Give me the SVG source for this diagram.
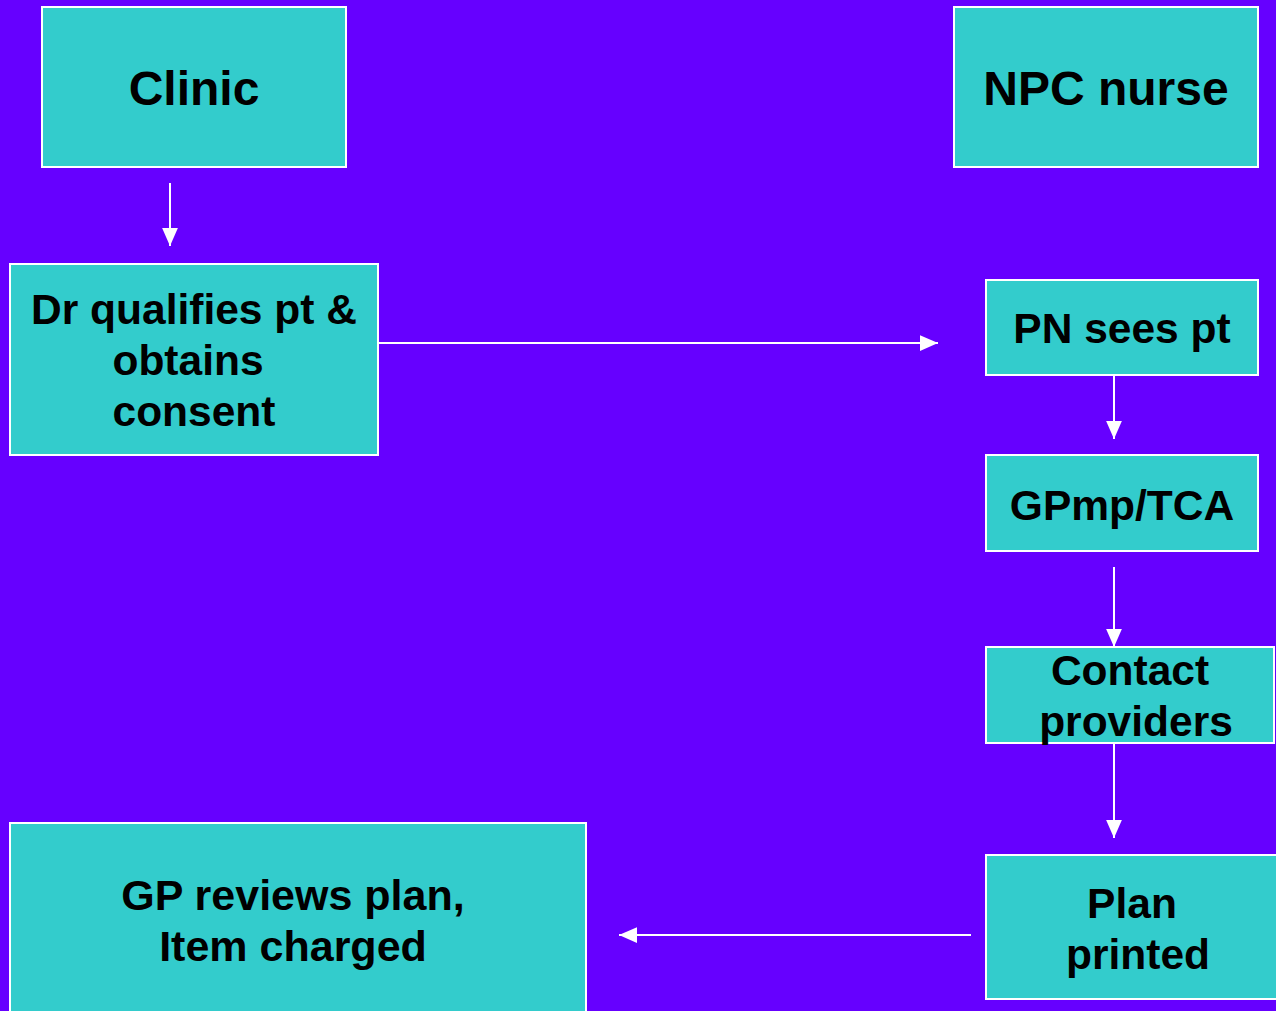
<svg xmlns="http://www.w3.org/2000/svg" width="1276" height="1011" viewBox="0 0 1276 1011">
<defs>
<style>
.box{fill:#33CCCC;stroke:#FFFFFF;stroke-width:2}
.t{font-family:"Liberation Sans",Arial,sans-serif;font-weight:bold;fill:#000;text-anchor:middle}
.c{stroke:#FFFFFF;stroke-width:2;fill:none}
</style>
<marker id="ah" markerUnits="userSpaceOnUse" markerWidth="18" markerHeight="18" viewBox="0 0 16 16" refX="16" refY="8" orient="auto">
<path d="M0,1 L16,8 L0,15 Z" fill="#FFFFFF"/>
</marker>
</defs>
<rect x="0" y="0" width="1276" height="1011" fill="#6600FF"/>
<g id="clinic">
<rect class="box" x="42" y="7" width="304" height="160"/>
<text class="t" x="194" y="105" font-size="48">Clinic</text>
</g>
<g id="npc-nurse">
<rect class="box" x="954" y="7" width="304" height="160"/>
<text class="t" x="1106" y="105" font-size="48">NPC nurse</text>
</g>
<g id="dr-qualifies">
<rect class="box" x="10" y="264" width="368" height="191"/>
<text class="t" font-size="42.5"><tspan x="194" y="324">Dr qualifies pt &amp;</tspan><tspan x="188" y="375">obtains</tspan><tspan x="194" y="426">consent</tspan></text>
</g>
<g id="pn-sees-pt">
<rect class="box" x="986" y="280" width="272" height="95"/>
<text class="t" x="1122" y="343" font-size="42.5">PN sees pt</text>
</g>
<g id="gpmp-tca">
<rect class="box" x="986" y="455" width="272" height="96"/>
<text class="t" x="1122" y="520" font-size="42.5">GPmp/TCA</text>
</g>
<g id="contact-providers">
<rect class="box" x="986" y="647" width="288" height="96"/>
<text class="t" font-size="42.5"><tspan x="1130" y="685">Contact</tspan><tspan x="1136" y="736">providers</tspan></text>
</g>
<g id="plan-printed">
<rect class="box" x="986" y="855" width="292" height="144"/>
<text class="t" font-size="42.5"><tspan x="1132" y="918">Plan</tspan><tspan x="1138" y="969">printed</tspan></text>
</g>
<g id="gp-reviews">
<rect class="box" x="10" y="823" width="576" height="200"/>
<text class="t" font-size="43"><tspan x="293" y="910">GP reviews plan,</tspan><tspan x="293" y="961">Item charged</tspan></text>
</g>
<g id="connectors">
<line class="c" x1="170" y1="183" x2="170" y2="246" marker-end="url(#ah)"/>
<line class="c" x1="378" y1="343" x2="938" y2="343" marker-end="url(#ah)"/>
<line class="c" x1="1114" y1="375" x2="1114" y2="439" marker-end="url(#ah)"/>
<line class="c" x1="1114" y1="567" x2="1114" y2="647" marker-end="url(#ah)"/>
<line class="c" x1="1114" y1="743" x2="1114" y2="838" marker-end="url(#ah)"/>
<line class="c" x1="971" y1="935" x2="619" y2="935" marker-end="url(#ah)"/>
</g>
</svg>
